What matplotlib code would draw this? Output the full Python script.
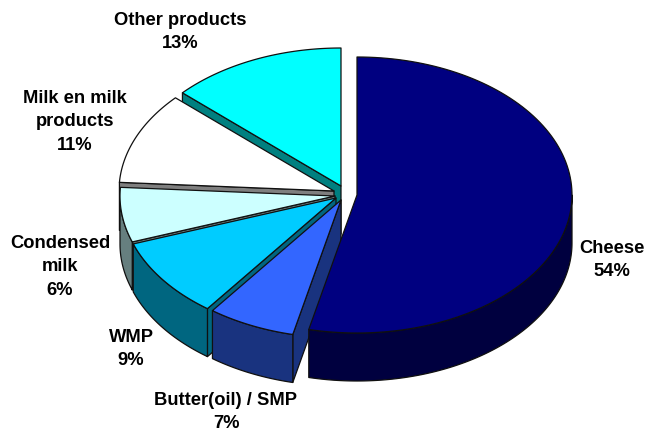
import numpy as np
import matplotlib
matplotlib.use('Agg')
import matplotlib.pyplot as plt

names = ['Cheese', 'Butter(oil) / SMP', 'WMP', 'Condensed\nmilk', 'Milk en milk\nproducts', 'Other products']
values = [53.6, 6.6, 9.4, 6.4, 10.8, 13.2]

top_colors = ['#000080', '#3366ff', '#00ccff', '#ccffff', '#ffffff', '#00ffff']
side_colors = ['#00003f', '#19337f', '#006680', '#667f7f', '#7f7f7f', '#008080']

# where each exploded slice has its tip, and where its label sits (in pixels)
tips = [(357, 196), (341, 201), (336, 199), (335, 197), (334, 192), (341, 187)]
label_pos = [(612, 260), (226, 412), (131, 349), (60, 267), (75, 122), (180, 32)]

rx, ry = 215, 138
depth = 48

plt.rcParams['font.family'] = ['Liberation Sans', 'DejaVu Sans']

fig = plt.figure(figsize=(6.45, 4.31), dpi=100)
ax = fig.add_axes([0, 0, 1, 1])
ax.set_xlim(0, 645)
ax.set_ylim(431, 0)
ax.axis('off')

edges = np.cumsum([0] + values) / sum(values) * 2 * np.pi


def face(points, color, zorder):
    ax.fill(points[:, 0], points[:, 1], facecolor=color, edgecolor='#101010', linewidth=0.9,
            joinstyle='round', zorder=zorder)


def rim(tx, ty, a):
    return np.column_stack([tx + rx * np.sin(a), ty - ry * np.cos(a)])


# back slices first so that the front ones cover them
for i in range(len(values) - 1, -1, -1):
    tx, ty = tips[i]
    start, stop = edges[i], edges[i + 1]
    arc = rim(tx, ty, np.linspace(start, stop, 120))
    tip = np.array([[tx, ty]])
    drop = np.array([0, depth])
    z = 10 * (len(values) - i)

    # only the walls that look towards the viewer
    if np.sin(start) < -1e-6:
        face(np.array([tip[0], arc[0], arc[0] + drop, tip[0] + drop]), side_colors[i], z)
    if np.sin(stop) > 1e-6:
        face(np.array([tip[0], arc[-1], arc[-1] + drop, tip[0] + drop]), side_colors[i], z)

    lo, hi = max(start, np.pi / 2), min(stop, 3 * np.pi / 2)
    if hi > lo:
        front = rim(tx, ty, np.linspace(lo, hi, 120))
        face(np.vstack([front, (front + drop)[::-1]]), side_colors[i], z + 1)

    face(np.vstack([tip, arc]), top_colors[i], z + 2)

for name, v, (x, y) in zip(names, values, label_pos):
    ax.text(x, y, f'{name}\n{round(v)}%', ha='center', va='center', fontsize=13.2,
            fontweight='bold', color='black', linespacing=1.47, zorder=200)

fig.savefig('out.png', dpi=100)
